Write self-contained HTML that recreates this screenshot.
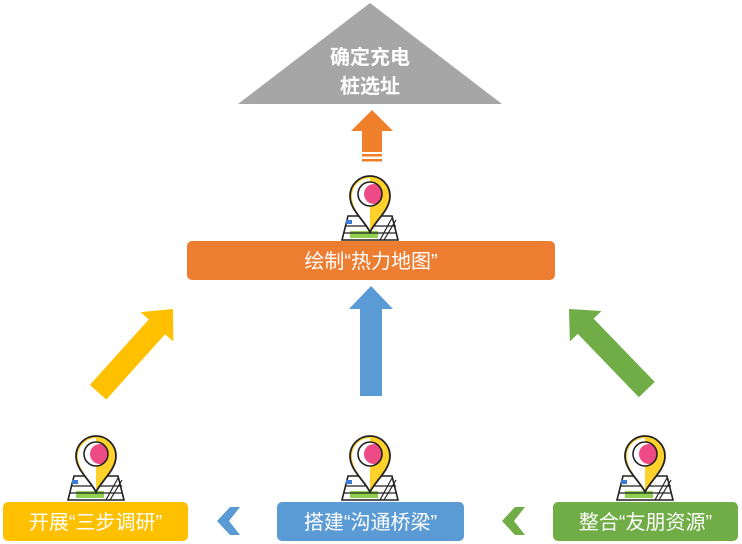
<!DOCTYPE html>
<html><head><meta charset="utf-8"><style>
html,body{margin:0;padding:0;background:#fff;}
svg{display:block;}
text{font-family:"Liberation Sans","Noto Sans CJK SC",sans-serif;}
</style></head><body>
<svg width="742" height="544" viewBox="0 0 742 544" xmlns="http://www.w3.org/2000/svg">
<defs>
<clipPath id="ic"><circle cx="0" cy="18" r="12"/></clipPath>
<g id="icon">
  <path d="M-22,40 L22,40 L28,64 L-28,64 Z" fill="#fff" stroke="#222" stroke-width="1.6"/>
  <rect x="-20" y="55" width="28" height="7" fill="#8fd14f"/>
  <rect x="-24" y="44" width="6" height="4" fill="#3a7bd5"/>
  <path d="M-25,50 L26,50 M-26,57 L27,57" stroke="#222" stroke-width="1.2"/>
  <path d="M10,64 L22,42 M14,64 L26,44" stroke="#222" stroke-width="1.2"/>
  <path d="M0,56 C-6,44 -20,34 -20,20 A20,20 0 0 1 20,20 C20,34 6,44 0,56 Z" fill="#ffd12b"/>
  <path d="M0,54 C-6,44 -18,34 -18,20 A18,18 0 0 1 0,2 Z" fill="#fff"/>
  <path d="M0,56 C-6,44 -20,34 -20,20 A20,20 0 0 1 20,20 C20,34 6,44 0,56 Z" fill="none" stroke="#222" stroke-width="1.8"/>
  <circle cx="0" cy="18" r="12" fill="#fff"/>
  <g clip-path="url(#ic)"><circle cx="4" cy="18" r="10" fill="#ee4a86"/></g>
  <circle cx="0" cy="18" r="12" fill="none" stroke="#222" stroke-width="1.6"/>
</g>
</defs>

<polygon points="370,3 502,104 238,104" fill="#a6a6a6"/>
<text x="370" y="64" font-size="20" font-weight="bold" fill="#fff" text-anchor="middle">确定充电</text>
<text x="370" y="93" font-size="20" font-weight="bold" fill="#fff" text-anchor="middle">桩选址</text>

<path d="M372,110 L393,131 L382,131 L382,152 L362,152 L362,131 L351,131 Z" fill="#f07f2b"/>
<rect x="362" y="154" width="20" height="2.5" fill="#f07f2b"/>
<rect x="362" y="159" width="20" height="2.5" fill="#f07f2b"/>

<use href="#icon" x="370" y="176"/>

<rect x="187" y="241" width="368" height="39" rx="5" fill="#ed7d31"/>
<text x="371" y="268" font-size="20" fill="#fff" text-anchor="middle">绘制“热力地图”</text>

<path d="M371,286 L393,309 L382,309 L382,396 L360,396 L360,309 L349,309 Z" fill="#5b9bd5"/>

<g transform="translate(173,309) rotate(42)">
  <path d="M0,0 L22,24 L11,24 L11,112 L-11,112 L-11,24 L-22,24 Z" fill="#ffc000"/>
</g>
<g transform="translate(569,309) rotate(-44)">
  <path d="M0,0 L22,24 L11,24 L11,112 L-11,112 L-11,24 L-22,24 Z" fill="#70ad47"/>
</g>

<use href="#icon" x="96" y="436"/>
<use href="#icon" x="370" y="436"/>
<use href="#icon" x="645" y="436"/>

<rect x="3" y="502" width="185" height="39" rx="5" fill="#ffc000"/>
<text x="95.5" y="529" font-size="20" fill="#fff" text-anchor="middle">开展“三步调研”</text>
<rect x="277" y="502" width="187" height="39" rx="5" fill="#5b9bd5"/>
<text x="370.5" y="529" font-size="20" fill="#fff" text-anchor="middle">搭建“沟通桥梁”</text>
<rect x="553" y="502" width="185" height="39" rx="5" fill="#70ad47"/>
<text x="645.5" y="529" font-size="20" fill="#fff" text-anchor="middle">整合“友朋资源”</text>

<path d="M240,507 L229,521 L240,535 L230,535 L217,521 L230,507 Z" fill="#5b9bd5"/>
<path d="M525,507 L514,521 L525,535 L515,535 L502,521 L515,507 Z" fill="#70ad47"/>
</svg>
</body></html>
